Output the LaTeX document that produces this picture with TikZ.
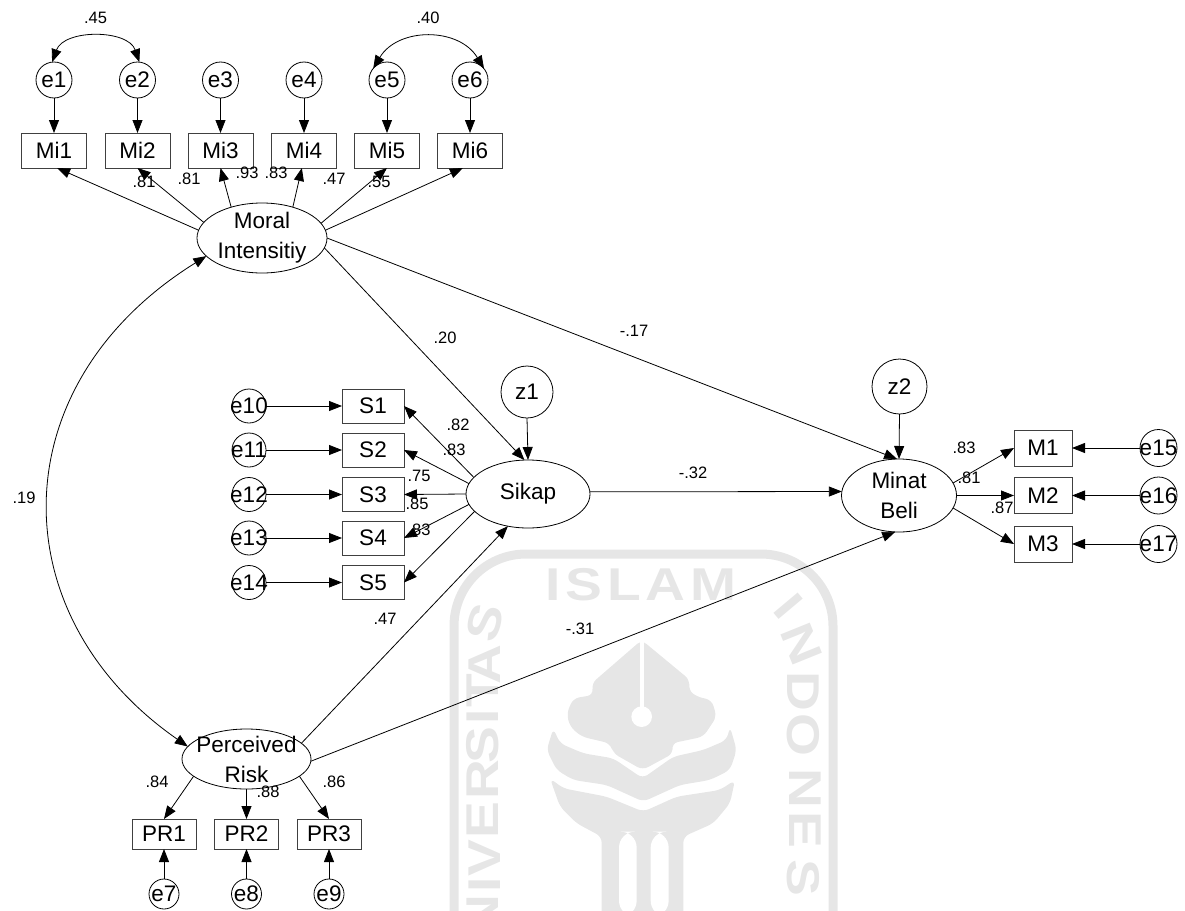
\documentclass[tikz,border=0pt]{standalone}
\usepackage{fontspec}
\setmainfont{Liberation Sans}
\newfontfamily\wmfont[FakeStretch=1.2]{Liberation Sans}
\newfontfamily\wmtop[FakeStretch=1.2,LetterSpace=10]{Liberation Sans}
\usetikzlibrary{arrows.meta,shapes.geometric}
\definecolor{wmgrey}{HTML}{E6E6E6}
\definecolor{boxline}{HTML}{404040}
\newcommand{\cn}[1]{\makebox[0pt]{#1}}
\tikzset{
  x=1pt,y=-1pt,
  boxn/.style={draw=boxline,line width=1pt,inner sep=0,outer sep=0,minimum width=#1,font=\fontsize{22.5}{24}\selectfont},
  circn/.style={draw=black,line width=.8pt,circle,inner sep=0,outer sep=0,minimum size=#1,font=\fontsize{22.5}{24}\selectfont},
  latn/.style={draw=black,line width=.8pt,ellipse,inner sep=0,outer sep=0},
  lbl/.style={font=\fontsize{22.5}{30}\selectfont,align=center,inner sep=0},
  num/.style={font=\fontsize{16.5}{18}\selectfont,inner sep=0},
  arr/.style={draw=black,line width=.8pt,-{Triangle[length=13pt,width=10pt]}},
  twoarr/.style={draw=black,line width=.8pt,{Triangle[length=13pt,width=10pt]}-{Triangle[length=13pt,width=10pt]}},
  wmletter/.style={font=\fontsize{46}{46}\wmfont\bfseries,text=wmgrey,inner sep=0},
}
\begin{document}
\begin{tikzpicture}
\useasboundingbox (0,0) rectangle (1185,910);
% ---- watermark
\begin{scope}
\clip (0,0) rectangle (1185,910);
\draw[wmgrey,line width=9pt,rounded corners=72pt] (454,960) -- (454,554) -- (833,554) -- (833,960);
\node[font=\fontsize{46}{46}\wmtop\bfseries,text=wmgrey,inner sep=0] (wmislam) at (641,585) {ISLAM};
\foreach \ch/\xx/\yy/\rr [count=\i] in {S/485/623/75,A/485/665/90,T/483/691/90,I/483/717/90,S/483/745/90,R/483/780/90,E/483/820/90,V/485/858/90,I/485/885/90,N/483/915/90}
  \node[wmletter,rotate=\rr] (wml\i) at (\xx,\yy) {\ch};
\foreach \ch/\xx/\yy/\rr [count=\i] in {I/789/606/-50,N/802/644/-68,D/803/691/-90,O/803/735/-90,N/805/788/-90,E/805/830/-90,S/803/878/-90}
  \node[wmletter,rotate=\rr] (wmr\i) at (\xx,\yy) {\ch};
\begin{scope}[shift={(400,540)},x=.33333pt,y=-.33333pt]
\fill[wmgrey,rounded corners=6pt] (725,300) -- (575,430) -- (580,465) -- (520,475) -- (500,520) -- (510,560) -- (545,590) -- (630,610) -- (640,640) -- (728,690) -- (820,640) -- (815,610) -- (910,590) -- (950,530) -- (935,480) -- (890,470) -- (865,450) -- (870,420) -- cycle;
\fill[white] (720,300) rectangle (732,510);
\fill[white] (725,530) circle (31);
\fill[wmgrey,rounded corners=6pt] (460,565) -- (480,610) -- (550,640) -- (640,655) -- (728,715) -- (820,650) -- (910,630) -- (980,600) -- (990,560) -- (1010,630) -- (990,690) -- (930,720) -- (840,735) -- (730,785) -- (620,735) -- (520,720) -- (470,690) -- (440,630) -- cycle;
\fill[wmgrey,rounded corners=6pt] (450,715) -- (490,745) -- (620,770) -- (730,815) -- (830,770) -- (960,750) -- (1005,720) -- (990,790) -- (940,850) -- (850,890) -- (850,1130) -- (605,1130) -- (605,890) -- (530,850) -- (480,800) -- cycle;
\fill[white,rounded corners=16pt] (657,1130) -- (657,875) -- (710,875) -- (710,1130) -- cycle;
\fill[white,rounded corners=16pt] (752,1130) -- (752,875) -- (806,875) -- (806,1130) -- cycle;
\end{scope}
\end{scope}
% ---- Moral Intensity block
\node[latn,minimum width=130pt,minimum height=70pt,label={[lbl,name=moralt]center:Moral\\Intensitiy}] (moral) at (262,238) {};
\foreach \nm/\xx in {1/54,2/137.5,3/220.5,4/304,5/387,6/470}{
  \node[boxn=65pt,minimum height=35pt] (mi\nm) at (\xx,150.5) {Mi\nm};
  \node[circn=36pt] (e\nm) at (\xx,80) {\cn{e\nm}};
  \draw[arr] (e\nm.south) -- (mi\nm.north);
}
\draw[arr] (moral.173) -- (mi1.-80);
\draw[arr] (moral.165) -- (mi2.south);
\draw[arr] (moral.135) -- (mi3.south);
\draw[arr] (moral.45) -- (mi4.-97);
\draw[arr] (moral.14) -- (mi5.south);
\draw[arr] (moral.7) -- (mi6.-112);
\draw[twoarr] (e1.96) .. controls (64,29) and (128,29) .. (e2.84);
\draw[twoarr] (e5.140) .. controls (398,27) and (459,27) .. (e6.39);
% ---- Sikap block
\node[latn,minimum width=124pt,minimum height=68pt,label={[lbl,name=sikapt]center:Sikap}] (sikap) at (528,494) {};
\node[circn=52pt] (z1) at (527,392) {z1};
\draw[arr] (z1.south) -- (sikap.north);
\foreach \nm/\yy/\en in {1/406/10,2/450/11,3/494.5/12,4/538/13,5/582.5/14}{
  \node[boxn=62pt,minimum height=34pt] (s\nm) at (373,\yy) {S\nm};
  \node[circn=34pt] (e\en) at (249,\yy) {\cn{e\en}};
  \draw[arr] (e\en.east) -- (s\nm.west);
}
\draw[arr] (sikap.163) -- (s1.east);
\draw[arr] (sikap.170) -- (s2.east);
\draw[arr] (sikap.180) -- (s3.east);
\draw[arr] (sikap.190) -- (s4.east);
\draw[arr] (sikap.198) -- (s5.east);
% ---- Minat Beli block
\node[latn,minimum width=115pt,minimum height=73pt,label={[lbl,name=minatt]center:Minat\\Beli}] (minat) at (899,495.5) {};
\node[circn=55pt] (z2) at (899.5,386.5) {z2};
\draw[arr] (z2.south) -- (minat.north);
\foreach \nm/\yy/\en in {1/448/15,2/495.5/16,3/544/17}{
  \node[boxn=58pt,minimum height=36pt] (m\nm) at (1043,\yy) {M\nm};
  \node[circn=37pt] (e\en) at (1158.5,\yy) {\cn{e\en}};
  \draw[arr] (e\en.west) -- (m\nm.east);
}
\draw[arr] (minat.13) -- (m1.west);
\draw[arr] (minat.0) -- (m2.west);
\draw[arr] (minat.-13) -- (m3.west);
% ---- Perceived Risk block
\node[latn,minimum width=129pt,minimum height=60pt,label={[lbl,name=riskt]center:Perceived\\Risk}] (risk) at (246.5,759) {};
\foreach \nm/\xx/\en in {1/164/7,2/246.5/8,3/329/9}{
  \node[boxn=64pt,minimum height=30pt] (pr\nm) at (\xx,834) {PR\nm};
  \node[circn=30pt] (e\en) at (\xx,894) {\cn{e\en}};
  \draw[arr] (e\en.north) -- (pr\nm.south);
}
\draw[arr] (risk.198) -- (pr1.north);
\draw[arr] (risk.south) -- (pr2.north);
\draw[arr] (risk.-18) -- (pr3.north);
% ---- structural paths
\draw[arr] (moral.-9) -- (sikap.96);
\draw[arr] (moral.0) -- (minat.93);
\draw[arr] (sikap.2) -- (minat.176.5);
\draw[arr] (risk.16) -- (sikap.238);
\draw[arr] (risk.-2) -- (minat.264);
\draw[twoarr] (moral.198.7) .. controls (-1,385) and (0,616) .. (risk.168.6);
% ---- estimates
\node[num] (v1) at (95.5,17.5) {.45};
\node[num] (v2) at (428,18) {.40};
\node[num] (v3) at (144,182) {.81};
\node[num] (v4) at (189,179) {.81};
\node[num] (v5) at (247,173) {.93};
\node[num] (v6) at (276,173) {.83};
\node[num] (v7) at (334,179) {.47};
\node[num] (v8) at (379,182) {.55};
\node[num] (v9) at (445,338) {.20};
\node[num] (v10) at (634,331) {-.17};
\node[num] (v11) at (24,498) {.19};
\node[num] (v12) at (458,425) {.82};
\node[num] (v13) at (454,450) {.83};
\node[num] (v14) at (419,476) {.75};
\node[num] (v15) at (417,504) {.85};
\node[num] (v16) at (419,530) {.83};
\node[num] (v17) at (385,619) {.47};
\node[num] (v18) at (693,473) {-.32};
\node[num] (v19) at (580,629) {-.31};
\node[num] (v20) at (964,448) {.83};
\node[num] (v21) at (969,478) {.81};
\node[num] (v22) at (1002,508) {.87};
\node[num] (v23) at (157,782) {.84};
\node[num] (v24) at (268,792) {.88};
\node[num] (v25) at (334,782) {.86};
\end{tikzpicture}
\end{document}
